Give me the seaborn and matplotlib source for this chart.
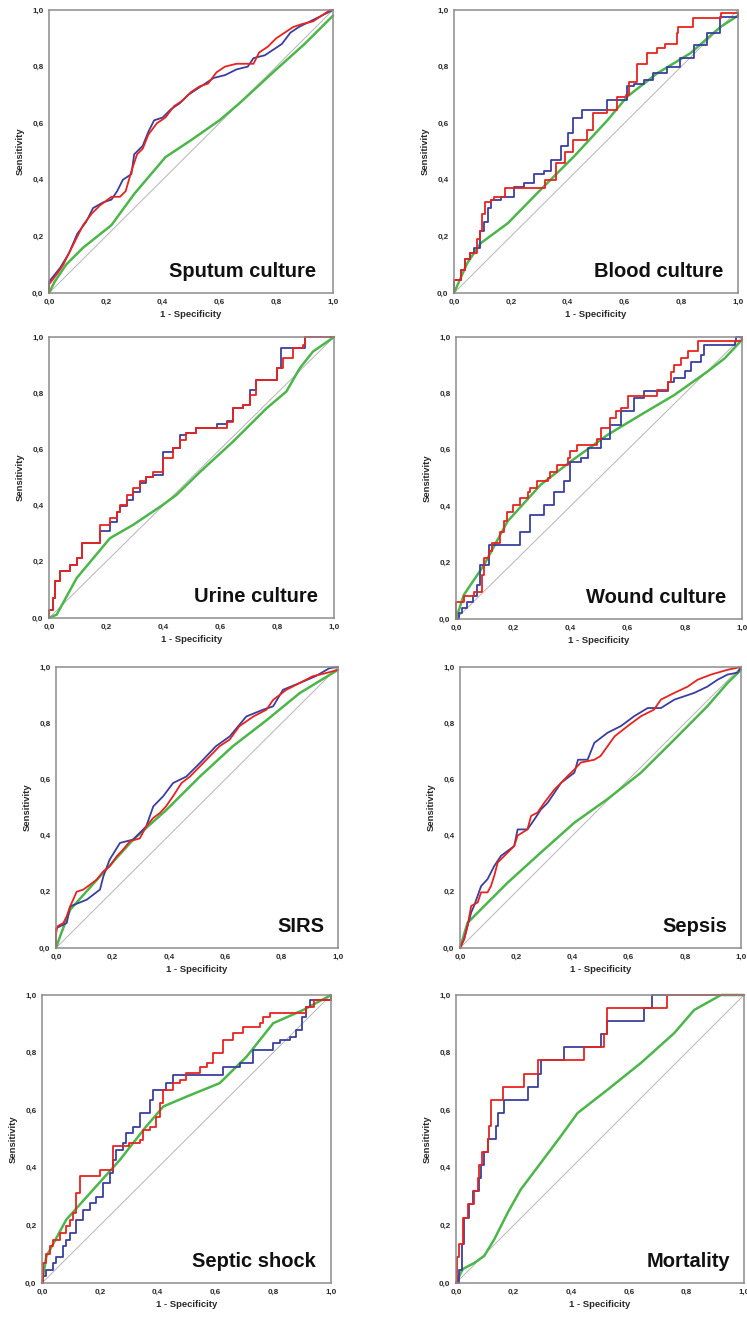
import matplotlib
matplotlib.use("Agg")
import matplotlib.pyplot as plt
import seaborn as sns
import pandas as pd

# ---------------------------------------------------------------------------
# ROC curves: (1 - specificity, sensitivity) pairs for each marker and outcome
# blue / red curves are empirical curves, green is the smoothed marker
# ---------------------------------------------------------------------------
PANEL_TITLES = ["Sputum culture", "Blood culture", "Urine culture", "Wound culture",
                "SIRS", "Sepsis", "Septic shock", "Mortality"]
TICK_VALUES = [0.0, 0.2, 0.4, 0.6, 0.8, 1.0]
TICK_LABELS = ["0,0", "0,2", "0,4", "0,6", "0,8", "1,0"]

sputum_blue = [(0, 0), (0, 0.04), (0.04, 0.09), (0.07, 0.14), (0.10, 0.21), (0.13, 0.25),
               (0.155, 0.30), (0.19, 0.32), (0.22, 0.33), (0.24, 0.36), (0.26, 0.40),
               (0.29, 0.42), (0.30, 0.49), (0.33, 0.52), (0.35, 0.57), (0.37, 0.61),
               (0.40, 0.62), (0.43, 0.65), (0.46, 0.67), (0.49, 0.70), (0.52, 0.72),
               (0.55, 0.74), (0.58, 0.76), (0.62, 0.77), (0.66, 0.79), (0.70, 0.80),
               (0.72, 0.83), (0.76, 0.84), (0.79, 0.86), (0.82, 0.88), (0.85, 0.92),
               (0.88, 0.94), (0.92, 0.96), (0.96, 0.98), (1.0, 1.0)]
sputum_red = [(0, 0), (0, 0.03), (0.03, 0.07), (0.05, 0.10), (0.08, 0.16), (0.10, 0.20),
              (0.12, 0.24), (0.15, 0.28), (0.18, 0.31), (0.22, 0.34), (0.25, 0.34),
              (0.27, 0.36), (0.29, 0.43), (0.31, 0.49), (0.33, 0.51), (0.35, 0.56),
              (0.38, 0.60), (0.41, 0.62), (0.44, 0.66), (0.47, 0.68), (0.50, 0.71),
              (0.53, 0.73), (0.56, 0.74), (0.59, 0.78), (0.62, 0.80), (0.66, 0.81),
              (0.72, 0.81), (0.74, 0.85), (0.77, 0.87), (0.80, 0.90), (0.83, 0.92),
              (0.86, 0.94), (0.89, 0.95), (0.93, 0.96), (0.96, 0.98), (0.99, 1.0), (1.0, 1.0)]
sputum_green = [(0, 0), (0.02, 0.04), (0.06, 0.10), (0.12, 0.16), (0.22, 0.24), (0.30, 0.35),
                (0.41, 0.48), (0.50, 0.54), (0.60, 0.61), (0.67, 0.67), (0.80, 0.79),
                (0.90, 0.88), (1.0, 0.98)]

blood_blue = [(0, 0), (0, 0.047), (0.026, 0.08), (0.04, 0.12), (0.055, 0.14), (0.07, 0.16),
              (0.09, 0.22), (0.105, 0.25), (0.12, 0.30), (0.13, 0.33), (0.164, 0.34),
              (0.21, 0.376), (0.246, 0.39), (0.28, 0.42), (0.317, 0.43), (0.34, 0.47),
              (0.375, 0.518), (0.40, 0.565), (0.42, 0.62), (0.45, 0.647), (0.516, 0.647),
              (0.54, 0.682), (0.586, 0.682), (0.61, 0.73), (0.633, 0.74), (0.668, 0.753),
              (0.70, 0.776), (0.75, 0.80), (0.797, 0.83), (0.844, 0.876), (0.89, 0.918),
              (0.938, 0.976), (1.0, 0.99)]
blood_red = [(0, 0), (0, 0.047), (0.026, 0.08), (0.04, 0.12), (0.055, 0.14), (0.07, 0.14),
             (0.08, 0.19), (0.09, 0.22), (0.10, 0.28), (0.11, 0.32), (0.13, 0.33),
             (0.14, 0.34), (0.16, 0.34), (0.18, 0.37), (0.30, 0.37), (0.32, 0.40),
             (0.36, 0.46), (0.39, 0.50), (0.42, 0.54), (0.47, 0.576), (0.49, 0.635),
             (0.54, 0.647), (0.575, 0.694), (0.604, 0.70), (0.615, 0.747), (0.645, 0.81),
             (0.68, 0.847), (0.715, 0.865), (0.744, 0.88), (0.785, 0.918), (0.79, 0.94),
             (0.84, 0.97), (0.94, 0.988), (1.0, 0.988)]
blood_green = [(0, 0), (0.047, 0.106), (0.094, 0.176), (0.19, 0.247), (0.305, 0.365),
               (0.422, 0.482), (0.54, 0.61), (0.61, 0.694), (0.715, 0.776), (0.832, 0.847),
               (0.938, 0.94), (1.0, 0.98)]

urine_blue = [(0, 0), (0, 0.03), (0.015, 0.07), (0.02, 0.13), (0.04, 0.166), (0.062, 0.166),
              (0.074, 0.19), (0.097, 0.213), (0.115, 0.267), (0.155, 0.267), (0.18, 0.31),
              (0.214, 0.34), (0.237, 0.379), (0.25, 0.40), (0.272, 0.42), (0.296, 0.45),
              (0.32, 0.48), (0.342, 0.50), (0.366, 0.51), (0.40, 0.59), (0.436, 0.604),
              (0.46, 0.65), (0.482, 0.657), (0.517, 0.675), (0.588, 0.69), (0.623, 0.70),
              (0.646, 0.746), (0.68, 0.758), (0.704, 0.81), (0.728, 0.848), (0.775, 0.848),
              (0.80, 0.89), (0.815, 0.96), (0.856, 0.96), (0.897, 1.0), (1.0, 1.0)]
urine_red = [(0, 0), (0, 0.03), (0.015, 0.07), (0.02, 0.13), (0.04, 0.166), (0.062, 0.166),
             (0.074, 0.19), (0.097, 0.213), (0.115, 0.267), (0.155, 0.267), (0.18, 0.332),
             (0.214, 0.355), (0.237, 0.379), (0.25, 0.403), (0.272, 0.438), (0.296, 0.462),
             (0.32, 0.486), (0.342, 0.503), (0.366, 0.52), (0.40, 0.568), (0.436, 0.604),
             (0.46, 0.634), (0.482, 0.657), (0.517, 0.675), (0.588, 0.675), (0.623, 0.699),
             (0.646, 0.746), (0.68, 0.758), (0.704, 0.794), (0.728, 0.848), (0.775, 0.848),
             (0.80, 0.89), (0.82, 0.924), (0.856, 0.96), (0.89, 0.97), (0.897, 1.0), (1.0, 1.0)]
urine_green = [(0, 0), (0.027, 0.012), (0.097, 0.142), (0.214, 0.284), (0.296, 0.332),
               (0.40, 0.403), (0.447, 0.438), (0.53, 0.52), (0.646, 0.628), (0.763, 0.746),
               (0.833, 0.806), (0.88, 0.889), (0.926, 0.948), (1.0, 1.0)]

wound_blue = [(0, 0), (0.01, 0.02), (0.02, 0.04), (0.04, 0.06), (0.06, 0.08), (0.075, 0.12),
              (0.085, 0.19), (0.10, 0.19), (0.115, 0.263), (0.20, 0.263), (0.225, 0.31),
              (0.26, 0.37), (0.307, 0.405), (0.342, 0.452), (0.377, 0.488), (0.40, 0.558),
              (0.436, 0.57), (0.46, 0.606), (0.506, 0.64), (0.54, 0.688), (0.576, 0.736),
              (0.623, 0.783), (0.658, 0.807), (0.716, 0.807), (0.74, 0.842), (0.763, 0.855),
              (0.80, 0.878), (0.82, 0.913), (0.856, 0.937), (0.868, 0.973), (0.975, 0.985),
              (0.98, 1.0), (1.0, 1.0)]
wound_red = [(0, 0), (0, 0.06), (0.027, 0.08), (0.062, 0.097), (0.09, 0.156), (0.097, 0.215),
             (0.115, 0.24), (0.126, 0.27), (0.144, 0.27), (0.155, 0.31), (0.167, 0.346),
             (0.18, 0.38), (0.20, 0.405), (0.225, 0.43), (0.25, 0.452), (0.26, 0.464),
             (0.284, 0.49), (0.32, 0.50), (0.33, 0.523), (0.354, 0.547), (0.39, 0.57),
             (0.40, 0.594), (0.424, 0.618), (0.47, 0.618), (0.494, 0.64), (0.506, 0.677),
             (0.53, 0.677), (0.54, 0.712), (0.558, 0.736), (0.576, 0.748), (0.60, 0.79),
             (0.693, 0.79), (0.704, 0.813), (0.728, 0.813), (0.74, 0.842), (0.75, 0.876),
             (0.763, 0.90), (0.786, 0.925), (0.81, 0.95), (0.842, 0.95), (0.845, 0.985),
             (1.0, 0.985), (1.0, 1.0)]
wound_green = [(0, 0), (0.027, 0.085), (0.097, 0.19), (0.18, 0.346), (0.296, 0.476),
               (0.40, 0.558), (0.53, 0.653), (0.646, 0.724), (0.763, 0.794), (0.88, 0.878),
               (0.94, 0.925), (1.0, 0.99)]

sirs_blue = [(0, 0), (0, 0.07), (0.038, 0.089), (0.05, 0.148), (0.109, 0.172), (0.156, 0.208),
             (0.168, 0.255), (0.19, 0.314), (0.227, 0.374), (0.274, 0.386), (0.32, 0.433),
             (0.345, 0.504), (0.38, 0.54), (0.415, 0.587), (0.462, 0.61), (0.51, 0.658),
             (0.567, 0.718), (0.616, 0.753), (0.675, 0.824), (0.734, 0.848), (0.77, 0.86),
             (0.805, 0.919), (0.864, 0.943), (0.92, 0.967), (0.97, 0.996), (1.0, 1.0)]
sirs_red = [(0, 0), (0, 0.05), (0.005, 0.077), (0.026, 0.089), (0.038, 0.113), (0.05, 0.148),
            (0.061, 0.172), (0.073, 0.20), (0.097, 0.208), (0.12, 0.225), (0.144, 0.243),
            (0.168, 0.273), (0.19, 0.29), (0.215, 0.326), (0.238, 0.35), (0.262, 0.38),
            (0.297, 0.39), (0.32, 0.433), (0.345, 0.463), (0.368, 0.48), (0.39, 0.504),
            (0.415, 0.54), (0.445, 0.587), (0.475, 0.61), (0.51, 0.646), (0.545, 0.682),
            (0.58, 0.718), (0.616, 0.742), (0.65, 0.789), (0.70, 0.824), (0.746, 0.848),
            (0.77, 0.883), (0.817, 0.919), (0.864, 0.943), (0.91, 0.967), (0.96, 0.979),
            (1.0, 0.99)]
sirs_green = [(0, 0), (0.014, 0.04), (0.05, 0.136), (0.156, 0.255), (0.274, 0.386),
              (0.39, 0.49), (0.51, 0.61), (0.627, 0.718), (0.746, 0.81), (0.864, 0.907),
              (1.0, 0.99)]

sepsis_blue = [(0, 0), (0.015, 0.032), (0.027, 0.08), (0.04, 0.127), (0.05, 0.15),
               (0.075, 0.22), (0.098, 0.245), (0.122, 0.292), (0.146, 0.328), (0.193, 0.363),
               (0.205, 0.422), (0.24, 0.422), (0.265, 0.458), (0.288, 0.493), (0.312, 0.517),
               (0.36, 0.588), (0.407, 0.624), (0.42, 0.67), (0.454, 0.67), (0.478, 0.73),
               (0.525, 0.766), (0.573, 0.79), (0.62, 0.825), (0.668, 0.854), (0.715, 0.854),
               (0.763, 0.884), (0.834, 0.908), (0.88, 0.93), (0.917, 0.955), (0.952, 0.973),
               (0.988, 0.98), (1.0, 1.0)]
sepsis_red = [(0, 0), (0.015, 0.032), (0.027, 0.08), (0.04, 0.15), (0.063, 0.162),
              (0.075, 0.198), (0.098, 0.198), (0.11, 0.22), (0.122, 0.257), (0.134, 0.304),
              (0.17, 0.34), (0.193, 0.363), (0.205, 0.40), (0.24, 0.422), (0.253, 0.47),
              (0.276, 0.482), (0.30, 0.517), (0.336, 0.564), (0.36, 0.588), (0.383, 0.612),
              (0.407, 0.635), (0.43, 0.66), (0.478, 0.67), (0.50, 0.683), (0.525, 0.718),
              (0.55, 0.753), (0.597, 0.79), (0.644, 0.825), (0.69, 0.848), (0.715, 0.884),
              (0.763, 0.908), (0.81, 0.93), (0.846, 0.955), (0.893, 0.973), (0.952, 0.99),
              (1.0, 1.0)]
sepsis_green = [(0, 0), (0.027, 0.09), (0.075, 0.138), (0.17, 0.233), (0.288, 0.34),
                (0.407, 0.446), (0.525, 0.53), (0.644, 0.624), (0.763, 0.742), (0.88, 0.86),
                (0.952, 0.943), (1.0, 0.99)]

shock_blue = [(0, 0), (0.003, 0.023), (0.015, 0.046), (0.038, 0.07), (0.05, 0.092),
              (0.073, 0.127), (0.084, 0.15), (0.096, 0.173), (0.119, 0.22), (0.142, 0.254),
              (0.165, 0.277), (0.188, 0.30), (0.21, 0.347), (0.234, 0.381), (0.246, 0.428),
              (0.257, 0.462), (0.28, 0.486), (0.292, 0.52), (0.315, 0.543), (0.338, 0.59),
              (0.373, 0.636), (0.385, 0.67), (0.42, 0.67), (0.43, 0.694), (0.454, 0.722),
              (0.592, 0.722), (0.627, 0.75), (0.685, 0.763), (0.72, 0.763), (0.73, 0.809),
              (0.777, 0.809), (0.80, 0.832), (0.823, 0.844), (0.858, 0.855), (0.88, 0.878),
              (0.90, 0.925), (0.915, 0.96), (0.927, 0.983), (1.0, 1.0)]
shock_red = [(0, 0), (0.002, 0.058), (0.004, 0.07), (0.015, 0.10), (0.027, 0.127),
             (0.038, 0.15), (0.061, 0.173), (0.084, 0.197), (0.096, 0.22), (0.107, 0.243),
             (0.119, 0.312), (0.13, 0.37), (0.20, 0.393), (0.223, 0.393), (0.246, 0.474),
             (0.29, 0.474), (0.30, 0.486), (0.338, 0.497), (0.35, 0.532), (0.373, 0.543),
             (0.396, 0.578), (0.408, 0.624), (0.42, 0.67), (0.442, 0.67), (0.454, 0.694),
             (0.477, 0.705), (0.50, 0.728), (0.535, 0.728), (0.546, 0.75), (0.57, 0.763),
             (0.592, 0.797), (0.627, 0.844), (0.65, 0.844), (0.662, 0.867), (0.685, 0.867),
             (0.696, 0.89), (0.754, 0.902), (0.765, 0.925), (0.789, 0.936), (0.904, 0.936),
             (0.915, 0.96), (0.94, 0.983), (1.0, 1.0)]
shock_green = [(0, 0), (0.015, 0.092), (0.084, 0.22), (0.177, 0.324), (0.27, 0.428),
               (0.36, 0.543), (0.42, 0.613), (0.50, 0.647), (0.615, 0.694), (0.708, 0.786),
               (0.80, 0.902), (0.904, 0.948), (1.0, 1.0)]

mortality_blue = [(0, 0), (0.012, 0.045), (0.02, 0.136), (0.029, 0.227), (0.046, 0.273),
                  (0.058, 0.318), (0.081, 0.364), (0.087, 0.409), (0.098, 0.455),
                  (0.11, 0.50), (0.139, 0.545), (0.145, 0.591), (0.168, 0.636),
                  (0.249, 0.682), (0.283, 0.727), (0.295, 0.773), (0.376, 0.818),
                  (0.503, 0.864), (0.526, 0.909), (0.654, 0.955), (0.682, 1.0), (1.0, 1.0)]
mortality_red = [(0, 0), (0.003, 0.091), (0.012, 0.136), (0.023, 0.227), (0.04, 0.273),
                 (0.064, 0.318), (0.075, 0.364), (0.081, 0.409), (0.092, 0.455),
                 (0.11, 0.50), (0.116, 0.545), (0.121, 0.636), (0.162, 0.682),
                 (0.237, 0.727), (0.283, 0.773), (0.445, 0.818), (0.503, 0.818),
                 (0.514, 0.864), (0.526, 0.909), (0.526, 0.955), (0.734, 1.0), (1.0, 1.0)]
mortality_green = [(0, 0), (0.023, 0.048), (0.064, 0.07), (0.098, 0.094), (0.133, 0.152),
                   (0.18, 0.245), (0.225, 0.325), (0.295, 0.418), (0.364, 0.51),
                   (0.422, 0.59), (0.526, 0.671), (0.642, 0.764), (0.757, 0.867),
                   (0.827, 0.948), (0.92, 1.0), (1.0, 1.0)]

PANEL_CURVES = [
    (sputum_blue, sputum_red, sputum_green),
    (blood_blue, blood_red, blood_green),
    (urine_blue, urine_red, urine_green),
    (wound_blue, wound_red, wound_green),
    (sirs_blue, sirs_red, sirs_green),
    (sepsis_blue, sepsis_red, sepsis_green),
    (shock_blue, shock_red, shock_green),
    (mortality_blue, mortality_red, mortality_green),
]

# Axes rectangles in figure pixels: (left, right, top, bottom)
FIG_W, FIG_H = 747, 1318
PANEL_BOXES = [
    (49, 333, 10, 293), (454, 738, 10, 293),
    (49, 334, 337, 618), (456, 742, 337, 619),
    (56, 338, 667, 948), (460, 741, 667, 948),
    (42, 331, 995, 1283), (456, 744, 995, 1283),
]
TITLE_X = [0.94, 0.95, 0.945, 0.944, 0.95, 0.95, 0.948, 0.951]
# dense curves are drawn as polylines, sparse ones as staircases
STEPPED = [False, True, True, True, False, False, True, True]

BLUE = "#3a3f9e"
RED = "#e8231f"
GREEN = "#4cb64a"
FRAME = "#8c8c8c"
TEXT = "#2a2a2a"

sns.set_style("white")
plt.rcParams["font.family"] = ["Liberation Sans", "DejaVu Sans"]

fig = plt.figure(figsize=(FIG_W / 100, FIG_H / 100), dpi=100)
fig.patch.set_facecolor("white")


def draw_curve(ax, pts, color, lw, step):
    df = pd.DataFrame(pts, columns=["fpr", "tpr"])
    kw = dict(drawstyle="steps-post") if step else {}
    sns.lineplot(data=df, x="fpr", y="tpr", sort=False, estimator=None,
                 color=color, lw=lw, ax=ax, clip_on=False, **kw)


for title, curves, box, tx, stepped in zip(PANEL_TITLES, PANEL_CURVES, PANEL_BOXES,
                                           TITLE_X, STEPPED):
    left, right, top, bottom = box
    ax = fig.add_axes([left / FIG_W, 1 - bottom / FIG_H,
                       (right - left) / FIG_W, (bottom - top) / FIG_H])
    blue, red, green = curves

    # chance diagonal
    sns.lineplot(x=[0, 1], y=[0, 1], color="#b5b5b5", lw=0.7, ax=ax)
    draw_curve(ax, green, GREEN, 1.8, step=False)
    draw_curve(ax, blue, BLUE, 1.3, step=stepped)
    draw_curve(ax, red, RED, 1.3, step=stepped)

    ax.set_xlim(0, 1)
    ax.set_ylim(0, 1)
    ax.set_xticks(TICK_VALUES)
    ax.set_yticks(TICK_VALUES)
    ax.set_xticklabels(TICK_LABELS)
    ax.set_yticklabels(TICK_LABELS)
    ax.tick_params(axis="both", direction="out", length=2.5, width=0.8, color=FRAME,
                   labelsize=5.8, labelcolor=TEXT, pad=1.5)
    for lab in ax.get_xticklabels() + ax.get_yticklabels():
        lab.set_fontweight("bold")
    for sp in ax.spines.values():
        sp.set_color(FRAME)
        sp.set_linewidth(1.1)
    ax.set_xlabel("1 - Specificity", fontsize=6.8, fontweight="bold", color=TEXT, labelpad=3)
    ax.set_ylabel("Sensitivity", fontsize=6.8, fontweight="bold", color=TEXT, labelpad=5)
    ax.text(tx, 0.075, title, transform=ax.transAxes, ha="right", va="center",
            fontsize=14.5, fontweight="bold", color="#111111")
    ax.grid(False)

fig.savefig("out.png", dpi=100, facecolor="white")
